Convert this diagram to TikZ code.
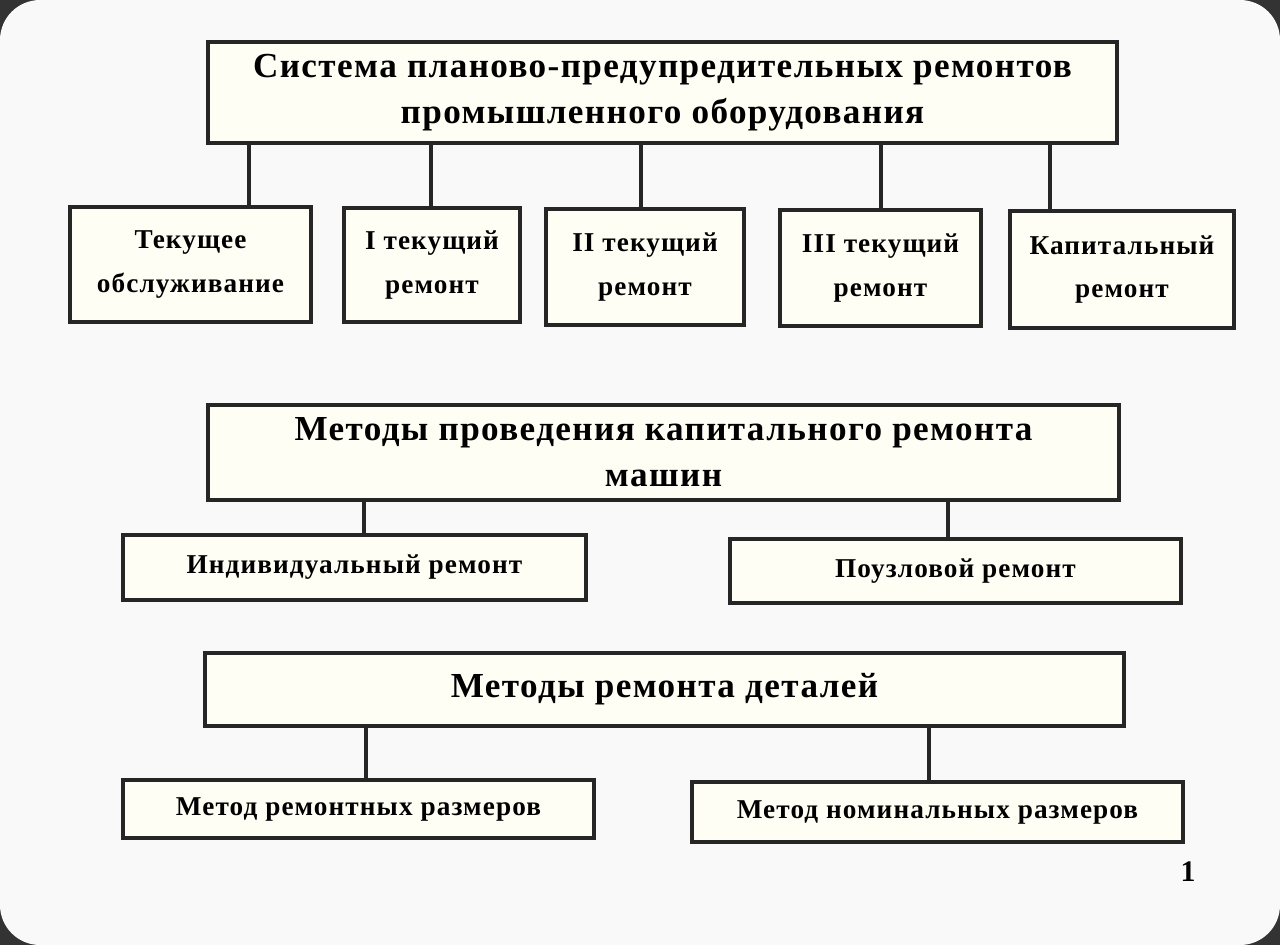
\documentclass[tikz,border=0pt]{standalone}
\usepackage{fontspec}
\setmainfont{Liberation Serif}[LetterSpace=4]
\begin{document}
\begin{tikzpicture}[
  box/.style={draw=black!85,line width=2.2pt,fill=white!96!yellow,align=center,inner sep=0pt,font=\bfseries\fontsize{15.5}{25}\selectfont},
  head/.style={box,font=\bfseries\fontsize{20}{26}\selectfont},
  conn/.style={draw=black!85,line width=2.2pt}]
\useasboundingbox (0,0) rectangle (25.6,-18.9);
\fill[black!80] (0,0) rectangle (25.6,-18.9);
\fill[rounded corners=0.8cm,white!95!gray] (0,0) rectangle (25.6,-18.9);
\node[head,minimum width=18.18cm,minimum height=2.02cm] (top) at (13.25,-1.85) {Система планово-предупредительных ремонтов\\промышленного оборудования};
\node[box,minimum width=4.82cm,minimum height=2.3cm] (b1) at (3.81,-5.29) {Текущее\\обслуживание};
\node[box,minimum width=3.52cm,minimum height=2.28cm] (b2) at (8.64,-5.30) {I текущий\\ремонт};
\node[box,minimum width=3.96cm,minimum height=2.32cm] (b3) at (12.9,-5.34) {II текущий\\ремонт};
\node[box,minimum width=4.02cm,minimum height=2.32cm] (b4) at (17.61,-5.36) {III текущий\\ремонт};
\node[box,minimum width=4.48cm,minimum height=2.34cm] (b5) at (22.44,-5.39) {Капитальный\\ремонт};
\foreach \b/\x in {b1/4.98,b2/8.62,b3/12.82,b4/17.62,b5/21.0} {
  \coordinate (k\b) at (\x,-3);
  \draw[conn] (\b.north -| k\b) -- (k\b |- top.south);
}
\node[head,minimum width=18.22cm,minimum height=1.9cm] (m2) at (13.27,-9.05) {Методы проведения капитального ремонта\\машин};
\node[box,minimum width=9.26cm,minimum height=1.3cm] (c1) at (7.09,-11.35) {Индивидуальный ремонт};
\node[box,minimum width=9.02cm,minimum height=1.28cm] (c2) at (19.11,-11.42) {Поузловой ремонт};
\coordinate (k1) at (7.28,-11.0); \coordinate (k2) at (18.96,-11.0);
\draw[conn] (c1.north -| k1) -- (k1 |- m2.south);
\draw[conn] (c2.north -| k2) -- (k2 |- m2.south);
\node[head,minimum width=18.38cm,minimum height=1.46cm] (m3) at (13.29,-13.79) {Методы ремонта деталей};
\node[box,minimum width=9.42cm,minimum height=1.16cm] (d1) at (7.17,-16.18) {Метод ремонтных размеров};
\node[box,minimum width=9.82cm,minimum height=1.2cm] (d2) at (18.75,-16.24) {Метод номинальных размеров};
\coordinate (k3) at (7.32,-15.0); \coordinate (k4) at (18.58,-15.0);
\draw[conn] (d1.north -| k3) -- (k3 |- m3.south);
\draw[conn] (d2.north -| k4) -- (k4 |- m3.south);
\node[font=\bfseries\fontsize{17}{20}\selectfont] (num) at (23.76,-17.44) {1};
\end{tikzpicture}
\end{document}
